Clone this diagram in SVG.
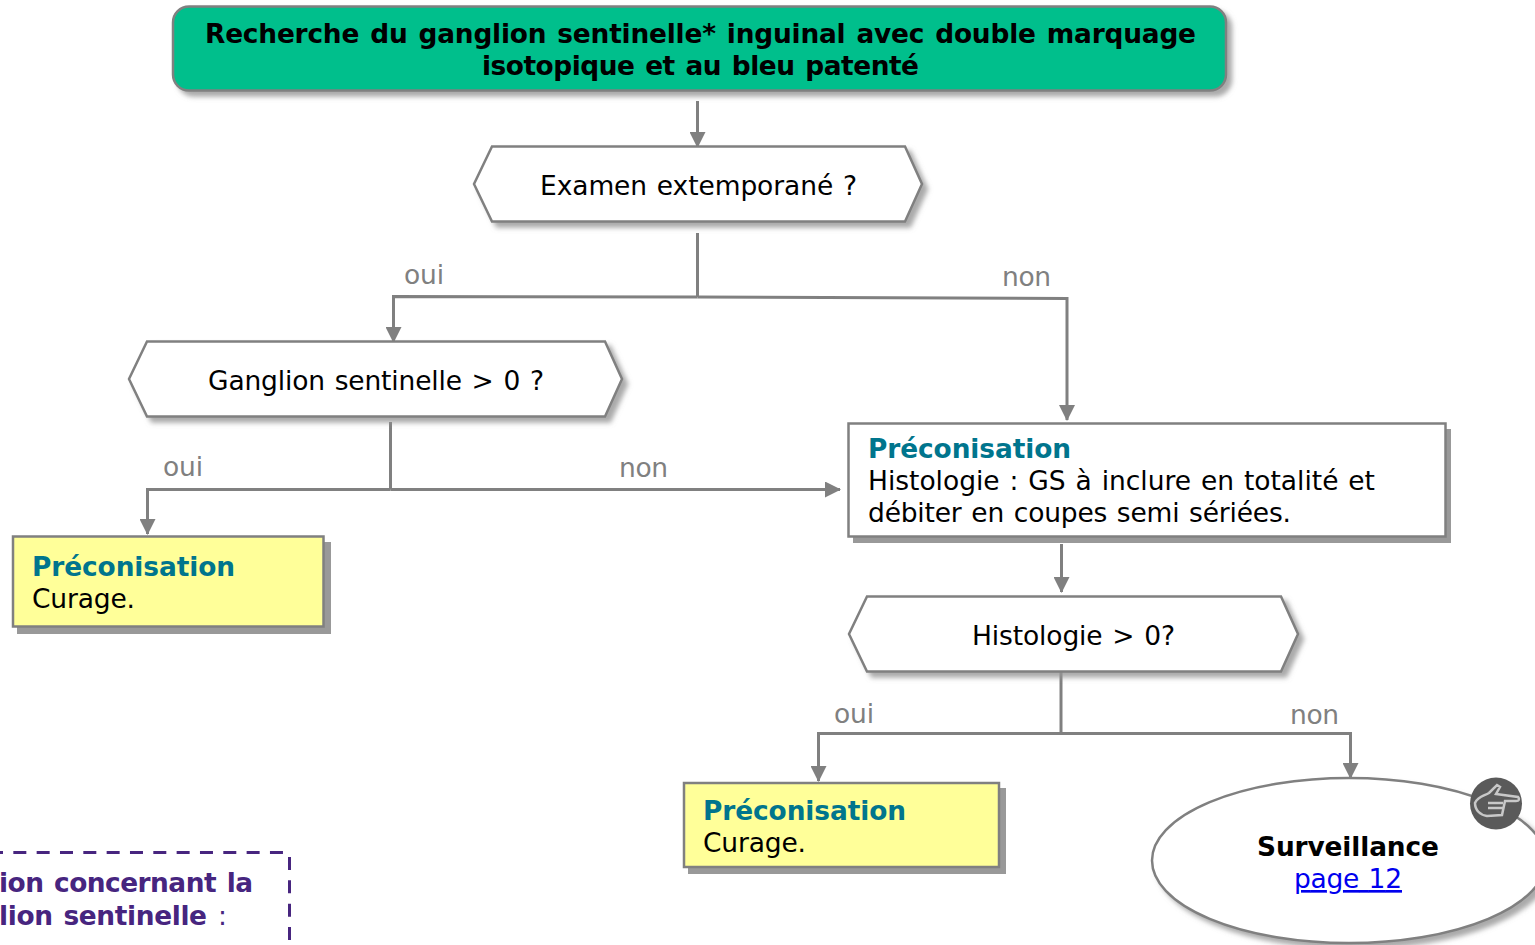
<svg xmlns="http://www.w3.org/2000/svg" width="1535" height="945" viewBox="0 0 1535 945">
<style>
text{font-family:"DejaVu Sans",Verdana,sans-serif;font-size:26.500px;word-spacing:1.500px;fill:#000}
.b{font-weight:bold;font-size:26.400px;word-spacing:2px}
.m{text-anchor:middle}
.p{font-weight:bold;font-size:26.400px;fill:#00758d}
.l{fill:#808080}
.v{fill:#47257f}
.n{stroke:#808080;stroke-width:2.500}
.c{stroke:#808080;stroke-width:3;fill:none}
.s{fill:#999;stroke:none}
</style>
<defs>
<marker id="a" markerUnits="userSpaceOnUse" markerWidth="16" markerHeight="16" refX="15" refY="8" orient="auto"><path d="M0 0L16 8L0 16Z" fill="#808080"/></marker>
<filter id="d" x="-5%" y="-15%" width="112%" height="140%"><feGaussianBlur in="SourceAlpha" stdDeviation="2.500"/><feOffset dx="5" dy="5"/><feColorMatrix values="0 0 0 0 .3 0 0 0 0 .3 0 0 0 0 .3 0 0 0 .8 0"/><feMerge><feMergeNode/><feMergeNode in="SourceGraphic"/></feMerge></filter>
<filter id="f"><feGaussianBlur stdDeviation="0.700"/></filter>
</defs>
<g id="connectors">
<path class="c" d="M697.500 101V147" marker-end="url(#a)"/>
<path class="c" d="M697.500 233V297"/>
<path class="c" d="M697.500 297L393.500 296.500V342" marker-end="url(#a)"/>
<path class="c" d="M697.500 297L1067 298.500V420" marker-end="url(#a)"/>
<path class="c" d="M390.500 422V489.500"/>
<path class="c" d="M390.500 489.500H147.500V534" marker-end="url(#a)"/>
<path class="c" d="M390.500 489.500H840" marker-end="url(#a)"/>
<path class="c" d="M1061.500 544V592" marker-end="url(#a)"/>
<path class="c" d="M1061 672V733.500"/>
<path class="c" d="M1061 733.500H818.500V781" marker-end="url(#a)"/>
<path class="c" d="M1061 733.500H1350.500V778" marker-end="url(#a)"/>
<text class="l" x="404" y="284" textLength="40">oui</text>
<text class="l" x="1002" y="286" textLength="49">non</text>
<text class="l" x="163" y="476" textLength="40">oui</text>
<text class="l" x="619" y="477" textLength="49">non</text>
<text class="l" x="834" y="723" textLength="40">oui</text>
<text class="l" x="1290" y="724" textLength="49">non</text>
</g>
<g id="title">
<rect x="173" y="6.500" width="1053" height="84" rx="16" fill="#00bf8c" class="n" filter="url(#d)"/>
<text class="b" x="205" y="43" textLength="991">Recherche du ganglion sentinelle* inguinal avec double marquage</text>
<text class="b" x="482" y="75" textLength="437">isotopique et au bleu patenté</text>
</g>
<g id="examen">
<path d="M492 146.500H905L922 184L905 221.500H492L474 184Z" fill="#fff" class="n" filter="url(#d)"/>
<text x="540" y="195" textLength="317">Examen extemporané ?</text>
</g>
<g id="ganglion">
<path d="M147 341.500H605L622 379L605 416.500H147L129 379Z" fill="#fff" class="n" filter="url(#d)"/>
<text x="208" y="390" textLength="336">Ganglion sentinelle &gt; 0 ?</text>
</g>
<g id="preco-histologie">
<rect class="s" x="853" y="429" width="598" height="114"/>
<rect x="848.500" y="423.500" width="597" height="113" fill="#fff" class="n"/>
<text class="p" x="868" y="458" textLength="203">Préconisation</text>
<text x="868" y="490" textLength="507">Histologie : GS à inclure en totalité et</text>
<text x="868" y="522" textLength="423">débiter en coupes semi sériées.</text>
</g>
<g id="preco-curage-1">
<rect class="s" x="17" y="542" width="314" height="92"/>
<rect x="13" y="536.500" width="310.500" height="90" fill="#ffff99" class="n"/>
<text class="p" x="32" y="576" textLength="203">Préconisation</text>
<text x="32" y="608" textLength="103">Curage.</text>
</g>
<g id="histologie">
<path d="M867 596.500H1281L1298 634L1281 671.500H867L849 634Z" fill="#fff" class="n" filter="url(#d)"/>
<text x="972" y="645" textLength="203">Histologie &gt; 0?</text>
</g>
<g id="preco-curage-2">
<rect class="s" x="688" y="788" width="318" height="86"/>
<rect x="684" y="783" width="315" height="84" fill="#ffff99" class="n"/>
<text class="p" x="703" y="820" textLength="203">Préconisation</text>
<text x="703" y="852" textLength="103">Curage.</text>
</g>
<g id="surveillance">
<ellipse cx="1349" cy="860.500" rx="197" ry="82.500" fill="#fff" class="n" filter="url(#d)"/>
<text class="b" x="1257" y="856" textLength="182">Surveillance</text>
<text x="1294" y="888" textLength="108" style="fill:#0000ee;text-decoration:underline">page 12</text>
</g>
<g id="hand" filter="url(#f)">
<circle cx="1496" cy="803.500" r="26" fill="#5a5a5a"/>
<path d="M1475 803C1478 796 1484 796 1489 793L1497 785L1500 787L1496 794L1518 797C1520 799 1519 801 1516 801L1505 801L1502 815L1487 816C1480 815 1475 810 1475 803ZM1488 803H1503M1488 808H1503" fill="none" stroke="#c8c8c8" stroke-width="2.500"/>
</g>
<g id="note">
<path d="M-10 852.500H283" fill="none" stroke="#47257f" stroke-width="3" stroke-dasharray="13 10.330"/>
<path d="M289.500 857V945" fill="none" stroke="#47257f" stroke-width="3" stroke-dasharray="13 10.330"/>
<text class="b v" x="-1" y="892" textLength="254">ion concernant la</text>
<text class="b v" x="-1" y="925" textLength="208">lion sentinelle</text>
<text class="v" x="218" y="925" textLength="8">:</text>
</g>
</svg>
